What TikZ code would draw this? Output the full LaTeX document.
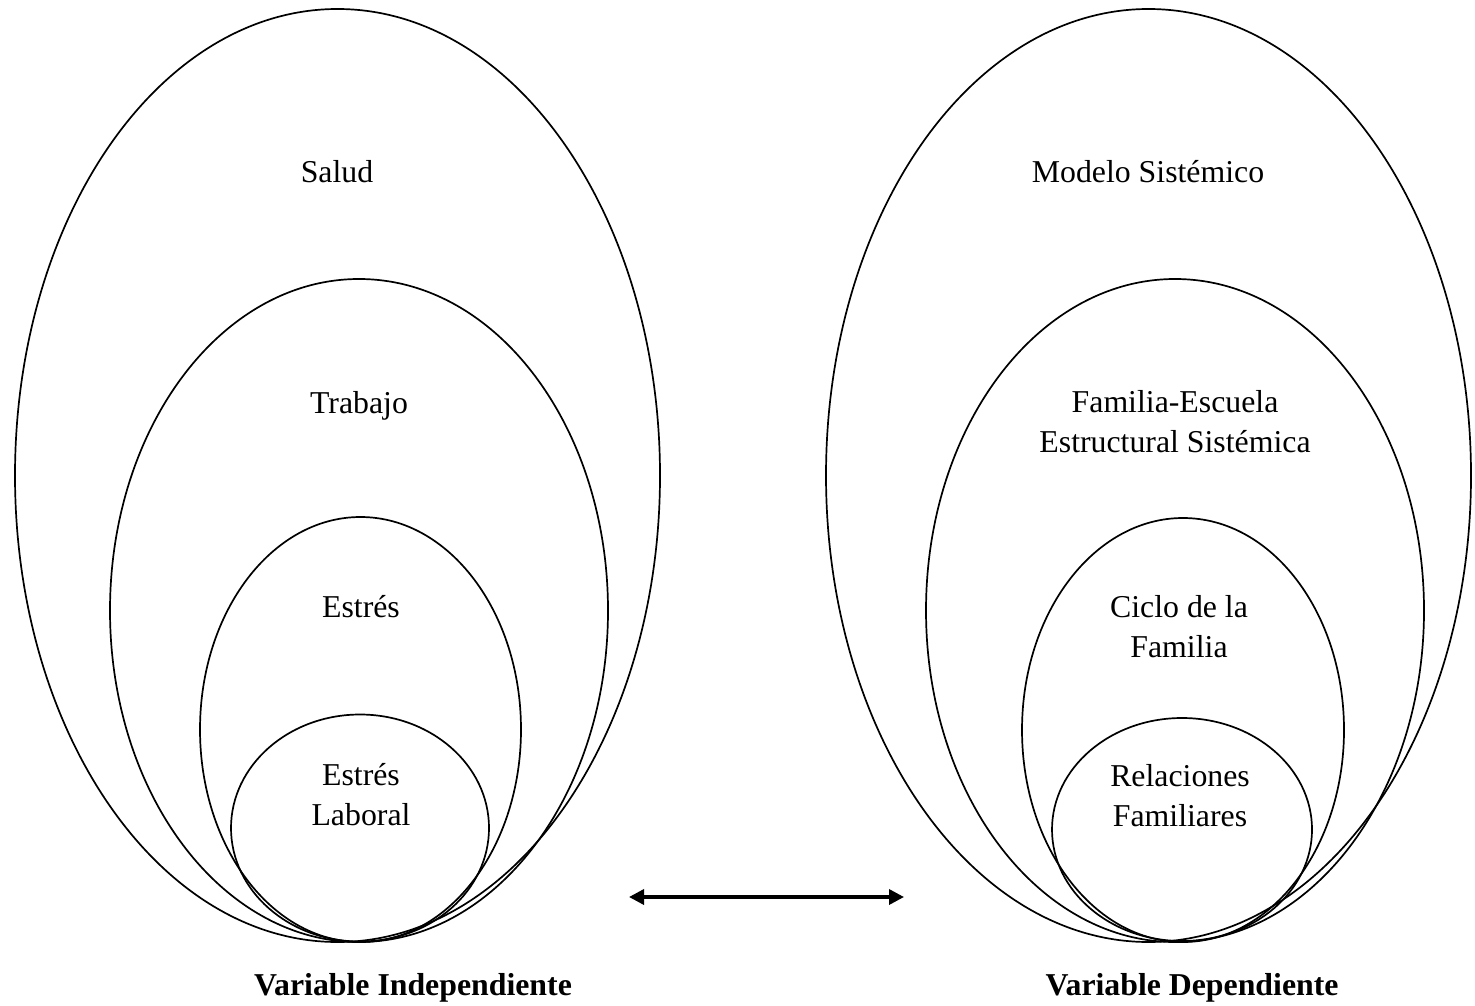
\documentclass[tikz,border=0pt]{standalone}
\usepackage{fontspec}
\setmainfont{Liberation Serif}
\usetikzlibrary{shapes.geometric,arrows.meta}

\begin{document}
\begin{tikzpicture}[x=0.5pt,y=-0.5pt,
  ring/.style={draw=black,line width=0.85pt,ellipse,inner sep=0pt,outer sep=0pt},
  lbl/.style={font=\fontsize{15.9}{19.8}\selectfont,align=center,anchor=base,inner sep=0pt},
  varlbl/.style={font=\fontsize{15.9}{19.8}\selectfont\bfseries,anchor=base,inner sep=0pt},
  link/.style={line width=1.7pt,{Triangle[length=7.5pt,width=7.5pt]}-{Triangle[length=7.5pt,width=7.5pt]}}]
\useasboundingbox (0,0) rectangle (1475,1005);

% independent variable: nested ellipses
\node[ring,minimum width=322.5pt,minimum height=466.5pt] (salud) at (337.5,475.5) {};
\node[ring,minimum width=249pt,minimum height=331.5pt] (trabajo) at (359,610.5) {};
\node[ring,minimum width=160.5pt,minimum height=212.5pt] (estres) at (360.5,729.5) {};
\node[ring,minimum width=129pt,minimum height=113.5pt] (laboral) at (360,828) {};

% labels are placed by the baseline of their last line
\node[lbl] (tSalud) at (337,183) {Salud};
\node[lbl] (tTrabajo) at (359,413) {Trabajo};
\node[lbl] (tEstres) at (361,617) {Estrés};
\node[lbl] (tLaboral) at (361,825) {Estrés\\Laboral};

% dependent variable: nested ellipses
\node[ring,minimum width=322.5pt,minimum height=466.5pt] (modelo) at (1148.5,475.5) {};
\node[ring,minimum width=249pt,minimum height=331.5pt] (escuela) at (1175,610.5) {};
\node[ring,minimum width=161pt,minimum height=212pt] (ciclo) at (1183,730) {};
\node[ring,minimum width=130pt,minimum height=111.5pt] (relaciones) at (1182,829.5) {};

\node[lbl] (tModelo) at (1148,183) {Modelo Sistémico};
\node[lbl] (tEscuela) at (1175,452) {Familia-Escuela\\Estructural Sistémica};
\node[lbl] (tCiclo) at (1179,657) {Ciclo de la\\Familia};
\node[lbl] (tRelaciones) at (1180,826) {Relaciones\\Familiares};

% captions
\node[varlbl] (vInd) at (413,995) {Variable Independiente};
\node[varlbl] (vDep) at (1192,995) {Variable Dependiente};

% two-way relation
\coordinate (arrL) at (629,897);
\coordinate (arrR) at (904,897);
\draw[link] (arrL) -- (arrR);
\end{tikzpicture}
\end{document}
